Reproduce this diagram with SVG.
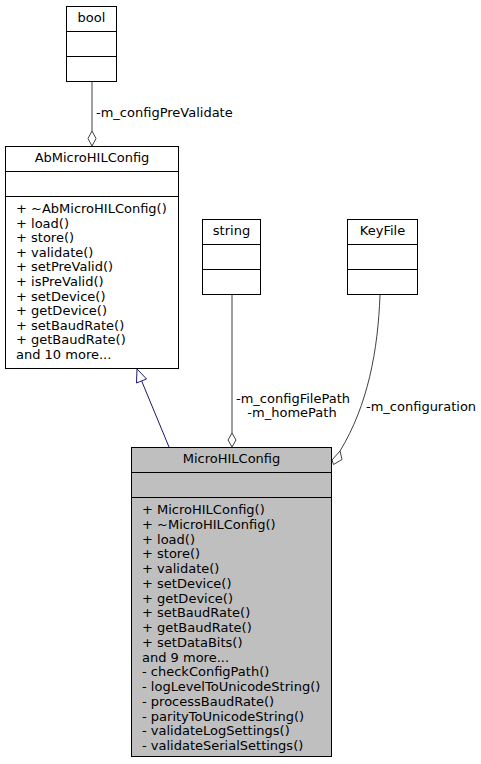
<svg xmlns="http://www.w3.org/2000/svg" width="481" height="764" viewBox="0 0 481 764">
<style>
text{font-family:"DejaVu Sans","Liberation Sans",sans-serif;font-size:13px;fill:#000}
.c{text-anchor:middle}
.box{fill:#fff;stroke:#000;stroke-width:1}
.main{fill:#bfbfbf;stroke:#000;stroke-width:1}
.sep{stroke:#000;stroke-width:1}
.agg{fill:none;stroke:#404040;stroke-width:1}
.dia{fill:#fff;stroke:#404040;stroke-width:1}
.inh{fill:none;stroke:#191970;stroke-width:1}
.tri{fill:#fff;stroke:#191970;stroke-width:1}
</style>
<rect width="481" height="764" fill="#fff"/>
<g id="connectors">
<path class="agg" d="M92,81 V131"/>
<polygon class="dia" points="92,146 96,138.5 92,131 88,138.5"/>
<text x="96" y="117">-m_configPreValidate</text>
<path class="inh" d="M169,447 L140,377"/>
<polygon class="tri" points="137,369 136.5,383 146.5,379"/>
<path class="agg" d="M232,295 V433"/>
<polygon class="dia" points="232,447 236,440 232,433 228,440"/>
<text class="c" x="293" y="403">-m_configFilePath</text>
<text class="c" x="292" y="417">-m_homePath</text>
<path class="agg" d="M380,295 C378,350 368,405 340,451"/>
<polygon class="dia" points="332,460 333.5,464.5 342,459.5 340,451"/>
<text x="366" y="411">-m_configuration</text>
</g>
<g id="bool">
<rect class="box" x="66.5" y="6.5" width="50" height="75"/>
<line class="sep" x1="66.5" y1="31.5" x2="116.5" y2="31.5"/>
<line class="sep" x1="66.5" y1="56.5" x2="116.5" y2="56.5"/>
<text class="c" x="91.5" y="22">bool</text>
</g>
<g id="AbMicroHILConfig">
<rect class="box" x="5.5" y="146.5" width="173" height="222"/>
<line class="sep" x1="5.5" y1="171.5" x2="178.5" y2="171.5"/>
<line class="sep" x1="5.5" y1="196.5" x2="178.5" y2="196.5"/>
<text class="c" x="92" y="162">AbMicroHILConfig</text>
<text x="16" y="213">+ ~AbMicroHILConfig()</text>
<text x="16" y="227.6">+ load()</text>
<text x="16" y="242.2">+ store()</text>
<text x="16" y="256.8">+ validate()</text>
<text x="16" y="271.4">+ setPreValid()</text>
<text x="16" y="286">+ isPreValid()</text>
<text x="16" y="300.6">+ setDevice()</text>
<text x="16" y="315.2">+ getDevice()</text>
<text x="16" y="329.8">+ setBaudRate()</text>
<text x="16" y="344.4">+ getBaudRate()</text>
<text x="16" y="359">and 10 more...</text>
</g>
<g id="string">
<rect class="box" x="202.5" y="219.5" width="58" height="75"/>
<line class="sep" x1="202.5" y1="244.5" x2="260.5" y2="244.5"/>
<line class="sep" x1="202.5" y1="269.5" x2="260.5" y2="269.5"/>
<text class="c" x="231.5" y="235">string</text>
</g>
<g id="KeyFile">
<rect class="box" x="347.5" y="219.5" width="70" height="75"/>
<line class="sep" x1="347.5" y1="244.5" x2="417.5" y2="244.5"/>
<line class="sep" x1="347.5" y1="269.5" x2="417.5" y2="269.5"/>
<text class="c" x="382.5" y="235">KeyFile</text>
</g>
<g id="MicroHILConfig">
<rect class="main" x="131.5" y="447.5" width="200" height="309"/>
<line class="sep" x1="131.5" y1="472.5" x2="331.5" y2="472.5"/>
<line class="sep" x1="131.5" y1="497.5" x2="331.5" y2="497.5"/>
<text class="c" x="231.5" y="463">MicroHILConfig</text>
<text x="142" y="514">+ MicroHILConfig()</text>
<text x="142" y="528.75">+ ~MicroHILConfig()</text>
<text x="142" y="543.5">+ load()</text>
<text x="142" y="558.25">+ store()</text>
<text x="142" y="573">+ validate()</text>
<text x="142" y="587.75">+ setDevice()</text>
<text x="142" y="602.5">+ getDevice()</text>
<text x="142" y="617.25">+ setBaudRate()</text>
<text x="142" y="632">+ getBaudRate()</text>
<text x="142" y="646.75">+ setDataBits()</text>
<text x="142" y="661.5">and 9 more...</text>
<text x="142" y="676.25">- checkConfigPath()</text>
<text x="142" y="691">- logLevelToUnicodeString()</text>
<text x="142" y="705.75">- processBaudRate()</text>
<text x="142" y="720.5">- parityToUnicodeString()</text>
<text x="142" y="735.25">- validateLogSettings()</text>
<text x="142" y="750">- validateSerialSettings()</text>
</g>
</svg>
